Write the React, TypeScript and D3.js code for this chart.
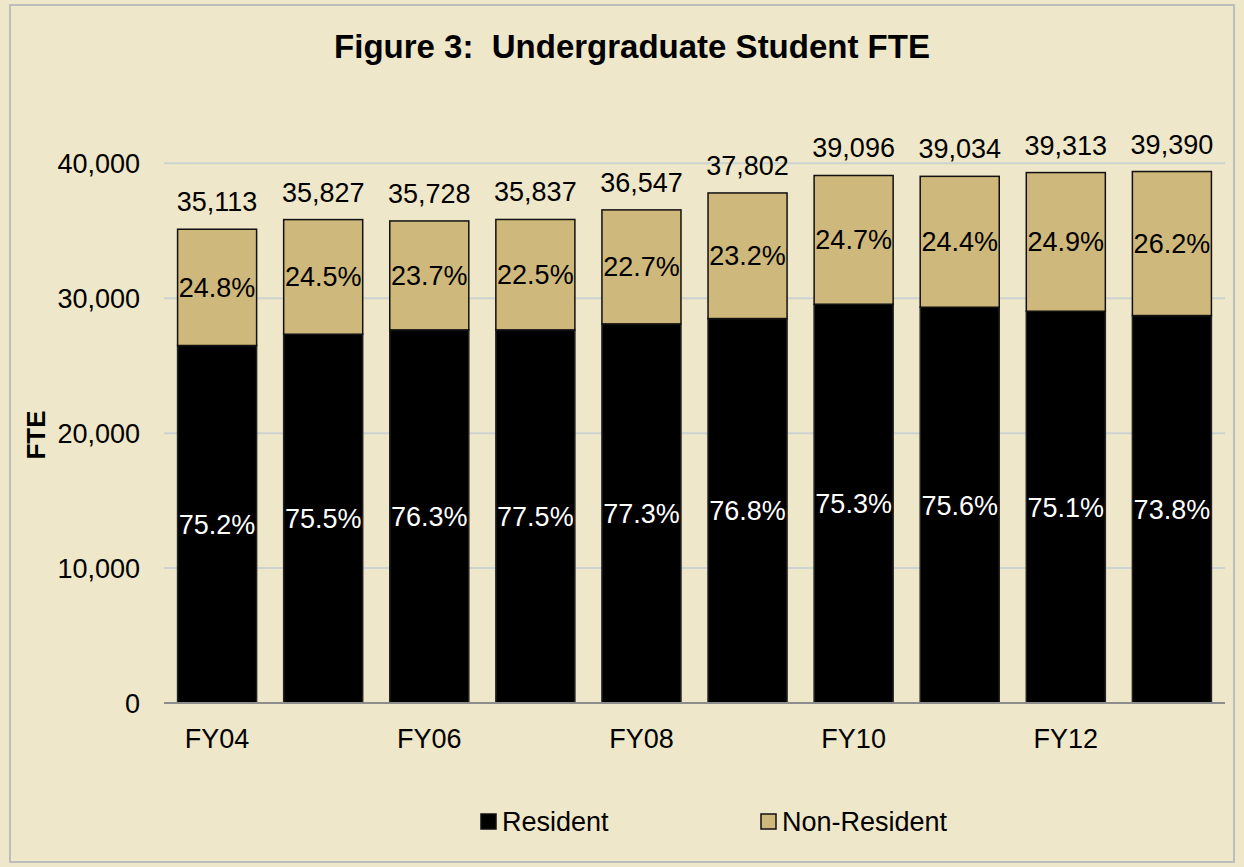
import React from "react";
import * as d3 from "d3";

const categories = ["FY04", "FY05", "FY06", "FY07", "FY08", "FY09", "FY10", "FY11", "FY12", "FY13"];
const tickCategories = ["FY04", "FY06", "FY08", "FY10", "FY12"];
const totals = [35113, 35827, 35728, 35837, 36547, 37802, 39096, 39034, 39313, 39390];
const resident = [26496, 27333, 27654, 27654, 28099, 28494, 29556, 29333, 29037, 28716];
const residentPct = ["75.2%", "75.5%", "76.3%", "77.5%", "77.3%", "76.8%", "75.3%", "75.6%", "75.1%", "73.8%"];
const nonResidentPct = ["24.8%", "24.5%", "23.7%", "22.5%", "22.7%", "23.2%", "24.7%", "24.4%", "24.9%", "26.2%"];
const yTicks = [0, 10000, 20000, 30000, 40000];
const legendItems = ["Resident", "Non-Resident"];

const W = 1244;
const H = 867;
const BG = "#EEE7C9";
const TAN = "#CFB87C";
const FONT = "'Liberation Sans', Arial, sans-serif";

export default function App() {
  const x = d3.scaleBand<string>().domain(categories).range([164, 1225]).paddingInner(0.255).paddingOuter(0.128);
  const y = d3.scaleLinear().domain([0, 40000]).range([703, 163.3]);
  const fmt = d3.format(",");
  const bw = x.bandwidth();

  return (
    <svg width={W} height={H} style={{ position: "absolute", left: 0, top: 0 }} fontFamily={FONT}>
      <rect x={0} y={0} width={W} height={H} fill={BG} />
      <rect x={10} y={5} width={1224} height={857} fill={BG} stroke="#BDBDBD" strokeWidth={2} />
      <text x={632} y={58} textAnchor="middle" fontSize={33} fontWeight="bold" fill="#000" style={{ whiteSpace: "pre" }}>
        {"Figure 3:\u00a0 Undergraduate Student FTE"}
      </text>
      {yTicks.map((t) => (
        <g key={t}>
          {t !== 0 && (
            <line x1={164} x2={1225} y1={y(t)} y2={y(t)} stroke="#CDD3D0" strokeWidth={2} />
          )}
          <text x={140} y={y(t) + 9.5} textAnchor="end" fontSize={27} fill="#000">
            {fmt(t)}
          </text>
        </g>
      ))}
      <text
        transform={`translate(45,435) rotate(-90)`}
        textAnchor="middle"
        fontSize={26}
        fontWeight="bold"
        fill="#000"
      >
        FTE
      </text>
      {categories.map((c, i) => {
        const x0 = x(c)!;
        const yr = y(resident[i]);
        const yt = y(totals[i]);
        const cx = x0 + bw / 2;
        return (
          <g key={c}>
            <rect x={x0} y={yr} width={bw} height={y(0) - yr} fill="#000" stroke="#222" strokeWidth={1.5} />
            <rect x={x0} y={yt} width={bw} height={yr - yt} fill={TAN} stroke="#111" strokeWidth={1.5} />
            <text x={cx} y={(yt + yr) / 2 + 9.5} textAnchor="middle" fontSize={27} fill="#000">
              {nonResidentPct[i]}
            </text>
            <text x={cx} y={(yr + y(0)) / 2 + 9.5} textAnchor="middle" fontSize={27} fill="#fff">
              {residentPct[i]}
            </text>
            <text x={cx} y={yt - 18} textAnchor="middle" fontSize={27} fill="#000">
              {fmt(totals[i])}
            </text>
          </g>
        );
      })}
      <line x1={164} x2={1225} y1={y(0)} y2={y(0)} stroke="#8C8C8C" strokeWidth={2} />
      {tickCategories.map((c) => (
        <text key={c} x={x(c)! + bw / 2} y={748} textAnchor="middle" fontSize={27} fill="#000">
          {c}
        </text>
      ))}
      {legendItems.map((name, i) => {
        const lx = i === 0 ? 481 : 761;
        return (
          <g key={name}>
            <rect x={lx} y={814} width={15} height={15} fill={i === 0 ? "#000" : TAN} stroke="#111" strokeWidth={1.5} />
            <text x={lx + 21} y={831} fontSize={27} fill="#000">
              {name}
            </text>
          </g>
        );
      })}
    </svg>
  );
}
